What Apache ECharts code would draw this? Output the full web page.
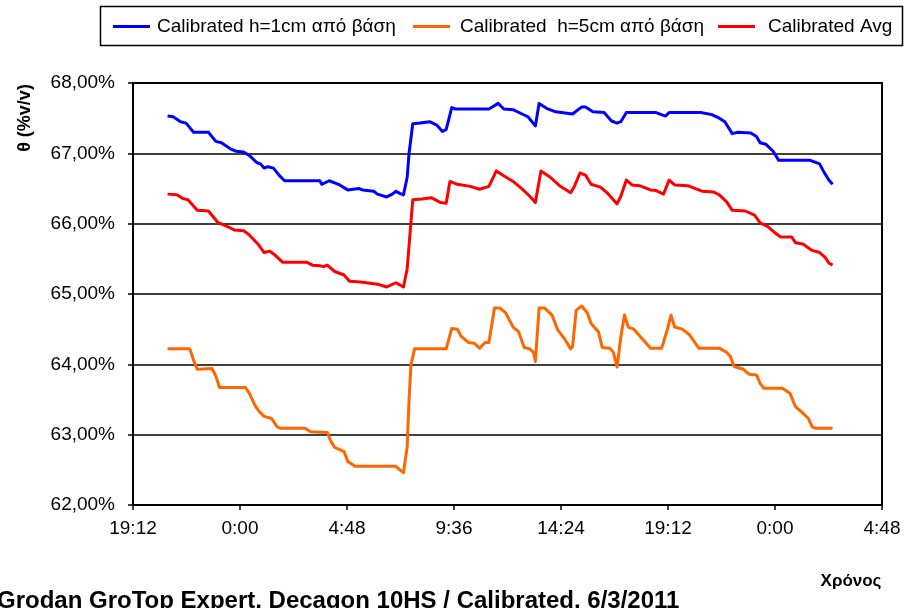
<!DOCTYPE html>
<html>
<head>
<meta charset="utf-8">
<script src="https://cdn.jsdelivr.net/npm/echarts@6/dist/echarts.min.js"></script>
<style>
  html, body { margin: 0; padding: 0; background: #fff; }
  #chart { width: 905px; height: 608px; }
</style>
</head>
<body>
<div id="chart"></div>
<script>
// Time is stored as minutes after midnight of the first day (1440 = next midnight).
const xMin = 1152, xMax = 3168, xStep = 288;          // 19:12 .. 4:48 (day 3), every 4h48
const yMin = 62, yMax = 68, yStep = 1;                 // θ in %v/v

const seriesNames = [
  'Calibrated h=1cm από βάση',
  'Calibrated  h=5cm από βάση',
  'Calibrated Avg'
];

// h = 1 cm from base
const blueT = [1245,1260,1280,1295,1315,1355,1375,1390,1415,1430,1450,1465,1485,1495,1505,1515,1530,1545,1560,1655,
  1660,1680,1705,1730,1760,1770,1800,1810,1835,1850,1860,1870,1880,1890,1895,1905,1925,1950,1970,1985,
  1995,2010,2020,2110,2135,2150,2175,2195,2215,2235,2245,2265,2290,2335,2360,2370,2390,2420,2440,2455,
  2465,2480,2560,2585,2595,2680,2710,2730,2745,2765,2780,2815,2830,2840,2855,2875,2890,2975,3000,3010,
  3025,3035];
const blueV = [67.53,67.52,67.45,67.43,67.30,67.30,67.17,67.15,67.06,67.03,67.02,66.97,66.87,66.85,66.79,66.81,66.79,66.69,66.61,66.61,
  66.56,66.61,66.56,66.48,66.50,66.48,66.46,66.42,66.38,66.42,66.46,66.43,66.41,66.66,67.00,67.42,67.43,67.45,67.40,67.31,
  67.34,67.65,67.63,67.63,67.71,67.63,67.62,67.57,67.52,67.39,67.71,67.64,67.59,67.56,67.66,67.66,67.59,67.58,67.46,67.43,
  67.45,67.58,67.58,67.53,67.58,67.58,67.55,67.50,67.45,67.28,67.30,67.29,67.24,67.15,67.13,67.03,66.90,66.90,66.85,66.75,
  66.62,66.56];

// h = 5 cm from base
const orangeT = [1245,1305,1315,1325,1365,1375,1385,1455,1465,1480,1490,1505,1525,1540,1550,1615,1630,1675,1685,1695,
  1720,1730,1750,1860,1870,1880,1890,1895,1900,1910,1995,2010,2025,2035,2055,2070,2085,2100,2110,2125,
  2140,2155,2175,2190,2205,2220,2230,2235,2245,2260,2280,2295,2315,2330,2335,2345,2360,2375,2385,2405,
  2415,2435,2445,2455,2465,2475,2485,2500,2525,2545,2575,2590,2600,2610,2630,2650,2675,2730,2750,2760,
  2770,2795,2810,2830,2840,2850,2900,2920,2935,2950,2970,2980,2990,3035];
const orangeV = [64.22,64.22,64.06,63.93,63.94,63.83,63.67,63.67,63.59,63.42,63.34,63.26,63.23,63.11,63.09,63.09,63.04,63.03,62.90,62.82,
  62.76,62.62,62.55,62.55,62.50,62.46,62.83,63.49,63.99,64.22,64.22,64.51,64.50,64.40,64.31,64.30,64.23,64.31,64.31,64.80,
  64.80,64.73,64.53,64.46,64.24,64.22,64.17,64.04,64.80,64.80,64.70,64.49,64.35,64.22,64.25,64.77,64.83,64.73,64.58,64.46,
  64.24,64.23,64.17,63.96,64.39,64.70,64.53,64.50,64.35,64.23,64.23,64.49,64.70,64.53,64.50,64.42,64.23,64.23,64.17,64.11,
  63.97,63.93,63.86,63.85,63.73,63.66,63.66,63.59,63.40,63.33,63.23,63.11,63.09,63.09];

// average
const redT = [1245,1270,1285,1300,1325,1355,1380,1405,1425,1450,1465,1490,1505,1520,1535,1555,1620,1635,1655,1665,
  1675,1695,1720,1735,1765,1810,1835,1860,1880,1890,1905,1930,1955,1980,1995,2005,2025,2060,2085,2110,
  2130,2150,2175,2200,2220,2235,2250,2275,2300,2330,2340,2355,2370,2385,2410,2430,2455,2465,2480,2495,
  2515,2545,2560,2580,2595,2610,2645,2685,2715,2730,2750,2765,2800,2825,2840,2860,2880,2895,2925,2935,
  2955,2980,3000,3015,3025,3035];
const redV = [66.42,66.41,66.36,66.34,66.19,66.18,66.02,65.96,65.91,65.90,65.84,65.70,65.59,65.61,65.55,65.45,65.45,65.41,65.40,65.39,
  65.41,65.32,65.27,65.18,65.17,65.14,65.10,65.16,65.10,65.36,66.34,66.35,66.37,66.30,66.29,66.60,66.56,66.53,66.49,66.53,
  66.75,66.68,66.60,66.49,66.39,66.30,66.75,66.66,66.54,66.44,66.53,66.72,66.69,66.56,66.52,66.43,66.28,66.39,66.62,66.55,
  66.54,66.48,66.47,66.42,66.62,66.55,66.54,66.46,66.45,66.41,66.31,66.19,66.18,66.12,66.01,65.96,65.87,65.81,65.81,65.73,
  65.71,65.62,65.59,65.52,65.44,65.41];

const colors = ['#0000FF', '#FF6600', '#FF0000'];
const FONT = '"Liberation Sans", Arial, sans-serif';

const zip = (t, v) => t.map((x, i) => [x, v[i]]);

function clock(min) {
  const m = ((Math.round(min) % 1440) + 1440) % 1440;
  const h = Math.floor(m / 60), mm = m % 60;
  return h + ':' + (mm < 10 ? '0' : '') + mm;
}

const chart = echarts.init(document.getElementById('chart'), null, { renderer: 'canvas' });

function legendAt(name, left, gap) {
  return {
    data: [name], left: left, top: 17,
    icon: 'rect', itemWidth: 37, itemHeight: 3, itemGap: 0, padding: 0,
    textStyle: { fontSize: 19, color: '#000', fontFamily: FONT, padding: [0, 0, 0, gap] }
  };
}

chart.setOption({
  animation: false,
  backgroundColor: '#fff',
  grid: {
    left: 133, right: 23, top: 83, bottom: 103,
    show: true, borderColor: '#000', borderWidth: 2, backgroundColor: 'transparent'
  },
  legend: [
    legendAt(seriesNames[0], 113, 2),
    legendAt(seriesNames[1], 413, 5),
    legendAt(seriesNames[2], 718, 8)
  ],
  xAxis: {
    type: 'value', min: xMin, max: xMax, interval: xStep,
    axisLine: { show: true, lineStyle: { color: '#000', width: 2 } },
    axisTick: { show: true, inside: false, length: 5, lineStyle: { color: '#000', width: 1.5 } },
    splitLine: { show: false },
    axisLabel: {
      fontSize: 19, color: '#000', fontFamily: FONT, margin: 14,
      formatter: v => clock(v)
    }
  },
  yAxis: {
    type: 'value', min: yMin, max: yMax, interval: yStep,
    axisLine: { show: true, lineStyle: { color: '#000', width: 2 } },
    axisTick: { show: true, inside: false, length: 5, lineStyle: { color: '#000', width: 1.5 } },
    splitLine: { show: true, lineStyle: { color: '#000', width: 1.5 } },
    axisLabel: {
      fontSize: 19, color: '#000', fontFamily: FONT, margin: 18,
      formatter: v => v.toFixed(2).replace('.', ',') + '%'
    }
  },
  series: [
    { name: seriesNames[0], type: 'line', showSymbol: false, data: zip(blueT, blueV),
      itemStyle: { color: colors[0] }, lineStyle: { color: colors[0], width: 3, join: 'round' } },
    { name: seriesNames[1], type: 'line', showSymbol: false, data: zip(orangeT, orangeV),
      itemStyle: { color: colors[1] }, lineStyle: { color: colors[1], width: 3, join: 'round' } },
    { name: seriesNames[2], type: 'line', showSymbol: false, data: zip(redT, redV),
      itemStyle: { color: colors[2] }, lineStyle: { color: colors[2], width: 3, join: 'round' } }
  ],
  graphic: [
    { type: 'rect', shape: { x: 100.5, y: 6.5, width: 802, height: 39 },
      style: { fill: 'none', stroke: '#000', lineWidth: 1.5 }, z: 0 },
    { type: 'text', x: 25, y: 118, rotation: Math.PI / 2,
      style: { text: 'θ (%v/v)', font: 'bold 18px ' + FONT, fill: '#000', align: 'center', verticalAlign: 'middle' } },
    { type: 'text', x: 851, y: 581,
      style: { text: 'Χρόνος', font: 'bold 17px ' + FONT, fill: '#000', align: 'center', verticalAlign: 'middle' } },
    { type: 'text', x: -3, y: 589,
      style: { text: 'Grodan GroTop Expert, Decagon 10HS / Calibrated, 6/3/2011', font: 'bold 24px ' + FONT, fill: '#000', align: 'left', verticalAlign: 'top' } }
  ]
});
</script>
</body>
</html>
